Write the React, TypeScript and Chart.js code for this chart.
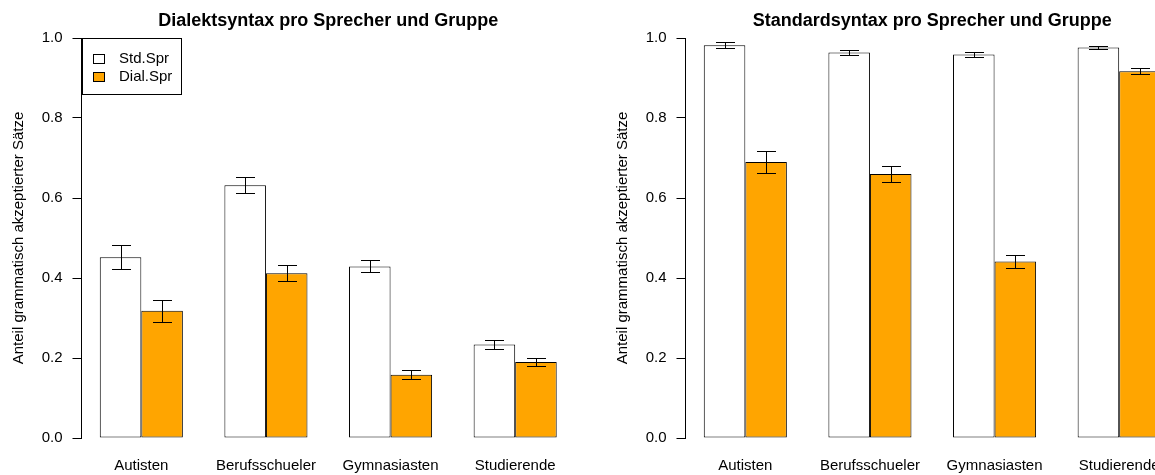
import React, { useEffect, useRef } from 'react';
import { Chart, registerables } from 'chart.js';

Chart.register(...registerables);

const categories = ['Autisten', 'Berufsschueler', 'Gymnasiasten', 'Studierende'];
const seriesLabels = ['Std.Spr', 'Dial.Spr'];
const seriesColors = ['#FFFFFF', '#FFA500'];

// Left panel: Dialektsyntax
const dialektStd = [0.452, 0.632, 0.429, 0.234];
const dialektStdErr = [0.030, 0.020, 0.015, 0.012];
const dialektDial = [0.318, 0.412, 0.158, 0.190];
const dialektDialErr = [0.028, 0.020, 0.011, 0.011];

// Right panel: Standardsyntax
const standardStd = [0.982, 0.964, 0.959, 0.976];
const standardStdErr = [0.0075, 0.007, 0.006, 0.004];
const standardDial = [0.690, 0.660, 0.441, 0.917];
const standardDialErr = [0.028, 0.019, 0.0155, 0.008];

const yTicks = [0, 0.2, 0.4, 0.6, 0.8, 1.0];
const yTitle = 'Anteil grammatisch akzeptierter Sätze';

const FONT = '"Liberation Sans", Arial, Helvetica, sans-serif';
Chart.defaults.font.family = FONT;
Chart.defaults.color = '#000';

const errorBarPlugin = {
  id: 'errorBars',
  afterDatasetsDraw(chart: any) {
    const ctx = chart.ctx;
    const yScale = chart.scales.y;
    ctx.save();
    ctx.strokeStyle = '#000';
    ctx.lineWidth = 1;
    chart.data.datasets.forEach((ds: any, di: number) => {
      const meta = chart.getDatasetMeta(di);
      meta.data.forEach((bar: any, j: number) => {
        const v = ds.data[j].y;
        const e = ds.errors[j];
        const x = Math.round(bar.x) + 0.5;
        const yt = Math.round(yScale.getPixelForValue(v + e)) + 0.5;
        const yb = Math.round(yScale.getPixelForValue(v - e)) + 0.5;
        const hw = 9.5;
        ctx.beginPath();
        ctx.moveTo(x, yt);
        ctx.lineTo(x, yb);
        ctx.moveTo(x - hw, yt);
        ctx.lineTo(x + hw, yt);
        ctx.moveTo(x - hw, yb);
        ctx.lineTo(x + hw, yb);
        ctx.stroke();
      });
    });
    ctx.restore();
  },
};

const boxLegendPlugin = {
  id: 'boxLegend',
  afterDraw(chart: any, _args: any, opts: any) {
    if (!opts || !opts.show) return;
    const ctx = chart.ctx;
    const { left, top } = chart.chartArea;
    const x0 = Math.round(left) + 0.5;
    const y0 = Math.round(top) + 0.5;
    ctx.save();
    ctx.fillStyle = '#FFFFFF';
    ctx.fillRect(x0, y0, 99, 56);
    ctx.strokeStyle = '#000';
    ctx.lineWidth = 1;
    ctx.strokeRect(x0, y0, 99, 56);
    ctx.font = `15px ${FONT}`;
    ctx.textBaseline = 'middle';
    ctx.textAlign = 'left';
    chart.data.datasets.forEach((ds: any, i: number) => {
      const cy = y0 + 20 + i * 17.5;
      ctx.fillStyle = ds.backgroundColor;
      ctx.fillRect(x0 + 11, Math.round(cy - 4.5), 11, 9);
      ctx.strokeStyle = '#000';
      ctx.strokeRect(x0 + 11, Math.round(cy - 4.5) + 0.5, 11, 9);
      ctx.fillStyle = '#000';
      ctx.fillText(ds.label, x0 + 36.5, cy + 0.5);
    });
    ctx.restore();
  },
};

type PanelProps = {
  title: string;
  std: number[];
  stdErr: number[];
  dial: number[];
  dialErr: number[];
  showLegend: boolean;
  left: number;
};

function Panel({ title, std, stdErr, dial, dialErr, showLegend, left }: PanelProps) {
  const ref = useRef<HTMLCanvasElement>(null);
  useEffect(() => {
    const mk = (vals: number[]) => vals.map((y, i) => ({ x: i, y }));
    const chart = new Chart(ref.current as HTMLCanvasElement, {
      type: 'bar',
      data: {
        datasets: [
          {
            label: seriesLabels[0],
            data: mk(std),
            errors: stdErr,
            backgroundColor: seriesColors[0],
            borderColor: '#000',
            borderWidth: 1,
            borderSkipped: false,
            categoryPercentage: 2 / 3,
            barPercentage: 1,
          } as any,
          {
            label: seriesLabels[1],
            data: mk(dial),
            errors: dialErr,
            backgroundColor: seriesColors[1],
            borderColor: '#000',
            borderWidth: 1,
            borderSkipped: false,
            categoryPercentage: 2 / 3,
            barPercentage: 1,
          } as any,
        ],
      },
      plugins: [errorBarPlugin, boxLegendPlugin],
      options: {
        animation: false,
        responsive: false,
        events: [],
        layout: { padding: { left: 0, right: 29, top: 0, bottom: 0 } },
        plugins: {
          legend: { display: false },
          tooltip: { enabled: false },
          title: {
            display: true,
            text: title,
            fullSize: false,
            color: '#000',
            font: { size: 18, weight: 'bold', family: FONT },
            padding: { top: 10, bottom: 6.4 },
          },
          boxLegend: { show: showLegend },
        } as any,
        scales: {
          x: {
            type: 'linear',
            offset: false,
            min: -0.48,
            max: 3.48,
            bounds: 'data',
            grid: { display: false, drawTicks: false },
            border: { display: false },
            afterBuildTicks: (s: any) => {
              s.ticks = categories.map((_, i) => ({ value: i }));
            },
            afterFit: (s: any) => {
              s.height = 37;
            },
            ticks: {
              callback: (v: any) => categories[Math.round(Number(v))] ?? '',
              padding: 19,
              font: { size: 15, family: FONT },
              color: '#000',
              maxRotation: 0,
              autoSkip: false,
            },
          },
          y: {
            min: 0,
            max: 1,
            afterBuildTicks: (s: any) => {
              s.ticks = yTicks.map((v) => ({ value: v }));
            },
            afterFit: (s: any) => {
              s.width = 81.5;
            },
            ticks: {
              callback: (v: any) => Number(v).toFixed(1),
              padding: 10,
              font: { size: 15, family: FONT },
              color: '#000',
            },
            grid: { drawOnChartArea: false, drawTicks: true, tickLength: 9, color: '#000', lineWidth: 1 },
            border: { display: true, color: '#000', width: 1 },
            title: {
              display: true,
              text: yTitle,
              color: '#000',
              font: { size: 15, family: FONT },
              padding: { top: 10, bottom: 0 },
            },
          },
        } as any,
      },
    });
    return () => chart.destroy();
  }, []);
  return (
    <div style={{ position: 'absolute', left, top: 0, width: 604, height: 475 }}>
      <canvas ref={ref} width={604} height={475} style={{ display: 'block' }} />
    </div>
  );
}

export default function App() {
  return (
    <div
      style={{
        position: 'fixed',
        left: 0,
        top: 0,
        width: 1155,
        height: 475,
        overflow: 'hidden',
        background: '#FFFFFF',
      }}
    >
      <Panel
        title="Dialektsyntax pro Sprecher und Gruppe"
        std={dialektStd}
        stdErr={dialektStdErr}
        dial={dialektDial}
        dialErr={dialektDialErr}
        showLegend={true}
        left={0}
      />
      <Panel
        title="Standardsyntax pro Sprecher und Gruppe"
        std={standardStd}
        stdErr={standardStdErr}
        dial={standardDial}
        dialErr={standardDialErr}
        showLegend={false}
        left={604}
      />
    </div>
  );
}
